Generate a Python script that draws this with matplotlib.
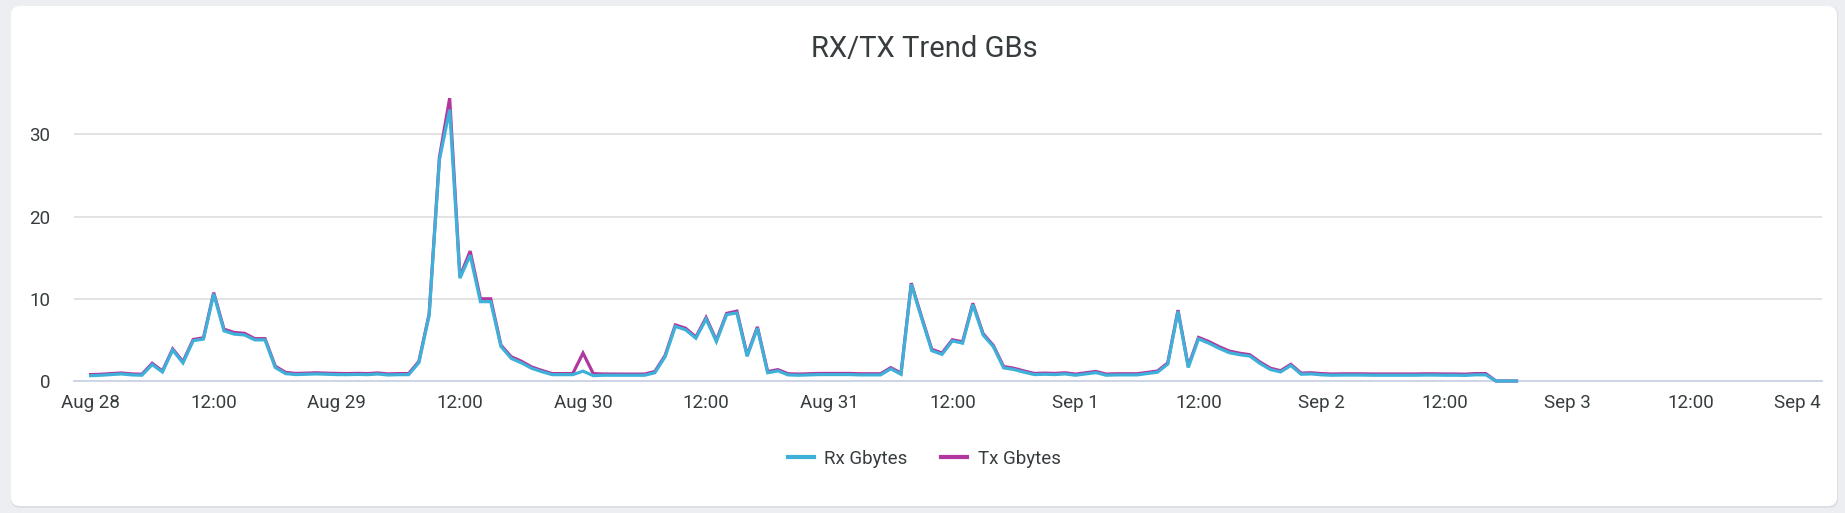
import matplotlib
matplotlib.use("Agg")
import matplotlib.pyplot as plt
import matplotlib.dates as mdates
import matplotlib.transforms as mtransforms
from matplotlib.patches import FancyBboxPatch
import pandas as pd

# hourly samples starting Aug 28 00:00
start = "2024-08-28 00:00"

rx_gb = [
    0.65, 0.70, 0.78, 0.86, 0.74, 0.70, 2.00, 1.10, 3.77, 2.20, 4.90, 5.10,
    10.6, 6.10, 5.70, 5.60, 5.00, 5.00, 1.64, 0.90, 0.78, 0.82, 0.86, 0.82,
    0.78, 0.77, 0.80, 0.77, 0.85, 0.73, 0.77, 0.77, 2.23, 8.00, 26.9, 33.0,
    12.5, 15.3, 9.65, 9.65, 4.20, 2.75, 2.20, 1.54, 1.13, 0.77, 0.77, 0.77,
    1.20, 0.65, 0.70, 0.70, 0.70, 0.70, 0.70, 1.00, 2.95, 6.64, 6.23, 5.20,
    7.54, 4.80, 8.07, 8.28, 3.00, 6.43, 1.00, 1.23, 0.74, 0.70, 0.74, 0.78,
    0.78, 0.78, 0.78, 0.74, 0.74, 0.74, 1.48, 0.82, 11.76, 7.66, 3.69, 3.24,
    4.88, 4.60, 9.30, 5.60, 4.18, 1.60, 1.40, 1.07, 0.78, 0.82, 0.78, 0.86,
    0.70, 0.86, 1.02, 0.70, 0.74, 0.74, 0.74, 0.90, 1.07, 2.05, 8.48, 1.64,
    5.12, 4.60, 3.98, 3.44, 3.20, 3.03, 2.13, 1.40, 1.10, 1.89, 0.82, 0.86,
    0.75, 0.70, 0.72, 0.72, 0.72, 0.70, 0.70, 0.70, 0.70, 0.70, 0.72, 0.72,
    0.70, 0.70, 0.68, 0.75, 0.75, 0.00, 0.00, 0.00,
]

tx_gb = [
    0.78, 0.82, 0.90, 0.98, 0.86, 0.82, 2.15, 1.22, 3.90, 2.35, 5.05, 5.25,
    10.75, 6.30, 5.90, 5.80, 5.15, 5.15, 1.80, 1.05, 0.92, 0.95, 1.00, 0.95,
    0.92, 0.90, 0.93, 0.90, 0.98, 0.86, 0.90, 0.90, 2.38, 8.15, 27.2, 34.4,
    12.7, 15.8, 10.0, 10.0, 4.35, 2.95, 2.40, 1.70, 1.28, 0.90, 0.90, 0.90,
    3.40, 0.90, 0.85, 0.84, 0.84, 0.84, 0.84, 1.15, 3.10, 6.82, 6.42, 5.35,
    7.72, 4.95, 8.22, 8.50, 3.15, 6.58, 1.15, 1.38, 0.88, 0.84, 0.88, 0.92,
    0.92, 0.92, 0.92, 0.88, 0.88, 0.88, 1.62, 0.96, 11.9, 7.82, 3.85, 3.40,
    5.02, 4.76, 9.45, 5.76, 4.32, 1.76, 1.55, 1.22, 0.92, 0.96, 0.92, 1.00,
    0.84, 1.00, 1.16, 0.84, 0.88, 0.88, 0.88, 1.04, 1.21, 2.20, 8.62, 1.80,
    5.30, 4.80, 4.18, 3.64, 3.38, 3.20, 2.30, 1.56, 1.25, 2.03, 0.96, 1.00,
    0.90, 0.85, 0.87, 0.87, 0.87, 0.85, 0.85, 0.85, 0.85, 0.85, 0.87, 0.87,
    0.85, 0.85, 0.83, 0.90, 0.90, 0.00, 0.00, 0.00,
]

y_ticks = [0, 10, 20, 30]
title = "RX/TX Trend GBs"
series_names = ["Rx Gbytes", "Tx Gbytes"]

RX_COLOR = "#3fb1d9"
TX_COLOR = "#b1379f"
TEXT = "#373d3f"

plt.rcParams["font.family"] = ["Roboto", "DejaVu Sans"]

times = pd.date_range(start, periods=len(rx_gb), freq="h")
t0 = pd.Timestamp(start)

W, H = 1845, 513
fig = plt.figure(figsize=(W / 100, H / 100), dpi=100)
fig.patch.set_facecolor("#eceef1")

# card with a soft shadow, kept behind the axes
shadow = FancyBboxPatch((11, 5), 1827, 502, boxstyle="round,pad=0,rounding_size=9",
                        transform=None, facecolor="#dcdfe4", edgecolor="none", zorder=-2)
card = FancyBboxPatch((11, 7), 1826, 500, boxstyle="round,pad=0,rounding_size=9",
                      transform=None, facecolor="white", edgecolor="none", zorder=-1)
fig.add_artist(shadow)
fig.add_artist(card)

ax = fig.add_axes([74 / W, (H - 381) / H, (1821.6 - 74) / W, (381 - 85) / H])
ax.set_facecolor("none")

ax.plot(times, tx_gb, color=TX_COLOR, lw=2.3, label=series_names[1],
        solid_joinstyle="miter", clip_on=False, zorder=3)
ax.plot(times, rx_gb, color=RX_COLOR, lw=2.3, label=series_names[0],
        solid_joinstyle="miter", clip_on=False, zorder=4)

ax.set_ylim(0, 36)
ax.set_xlim(t0 - pd.Timedelta(hours=1.62), t0 + pd.Timedelta(days=7, hours=0.74))

ax.set_yticks(y_ticks)
ax.yaxis.grid(True, color="#e3e3e3", lw=1.4)
ax.set_axisbelow(True)
for side in ["top", "right", "left"]:
    ax.spines[side].set_visible(False)
ax.spines["bottom"].set_color("#cdd4e6")
ax.spines["bottom"].set_linewidth(1.4)

ax.xaxis.set_major_locator(mdates.HourLocator(byhour=[0, 12]))


def fmt_date(x, pos=None):
    d = mdates.num2date(x)
    if d.hour == 0:
        return f"{d:%b} {d.day}"
    return "12:00"


ax.xaxis.set_major_formatter(plt.FuncFormatter(fmt_date))
ax.tick_params(axis="x", length=0, pad=9, labelsize=13.5, labelcolor=TEXT)
ax.tick_params(axis="y", length=0, pad=17, labelsize=13.5, labelcolor=TEXT)

# last label (Sep 4) is pushed inside the card like the reference
fig.canvas.draw()
labels = ax.get_xticklabels()
if labels:
    last = labels[-1]
    last.set_horizontalalignment("right")
    last.set_transform(last.get_transform() + mtransforms.ScaledTranslation(7 / 100, 0, fig.dpi_scale_trans))

fig.text(924 / W, (H - 49) / H, title, ha="center", va="center", fontsize=21, color=TEXT)

handles, lbls = ax.get_legend_handles_labels()
order = [1, 0]
leg = fig.legend([handles[i] for i in order], [lbls[i] for i in order],
                 loc="center", bbox_to_anchor=(924 / W, (H - 459) / H), ncol=2,
                 frameon=False, fontsize=13.5, handlelength=1.4, handletextpad=0.55,
                 columnspacing=1.8, labelcolor=TEXT)
for line in leg.get_lines():
    line.set_linewidth(3)

fig.savefig("out.png", dpi=100, facecolor=fig.get_facecolor())
